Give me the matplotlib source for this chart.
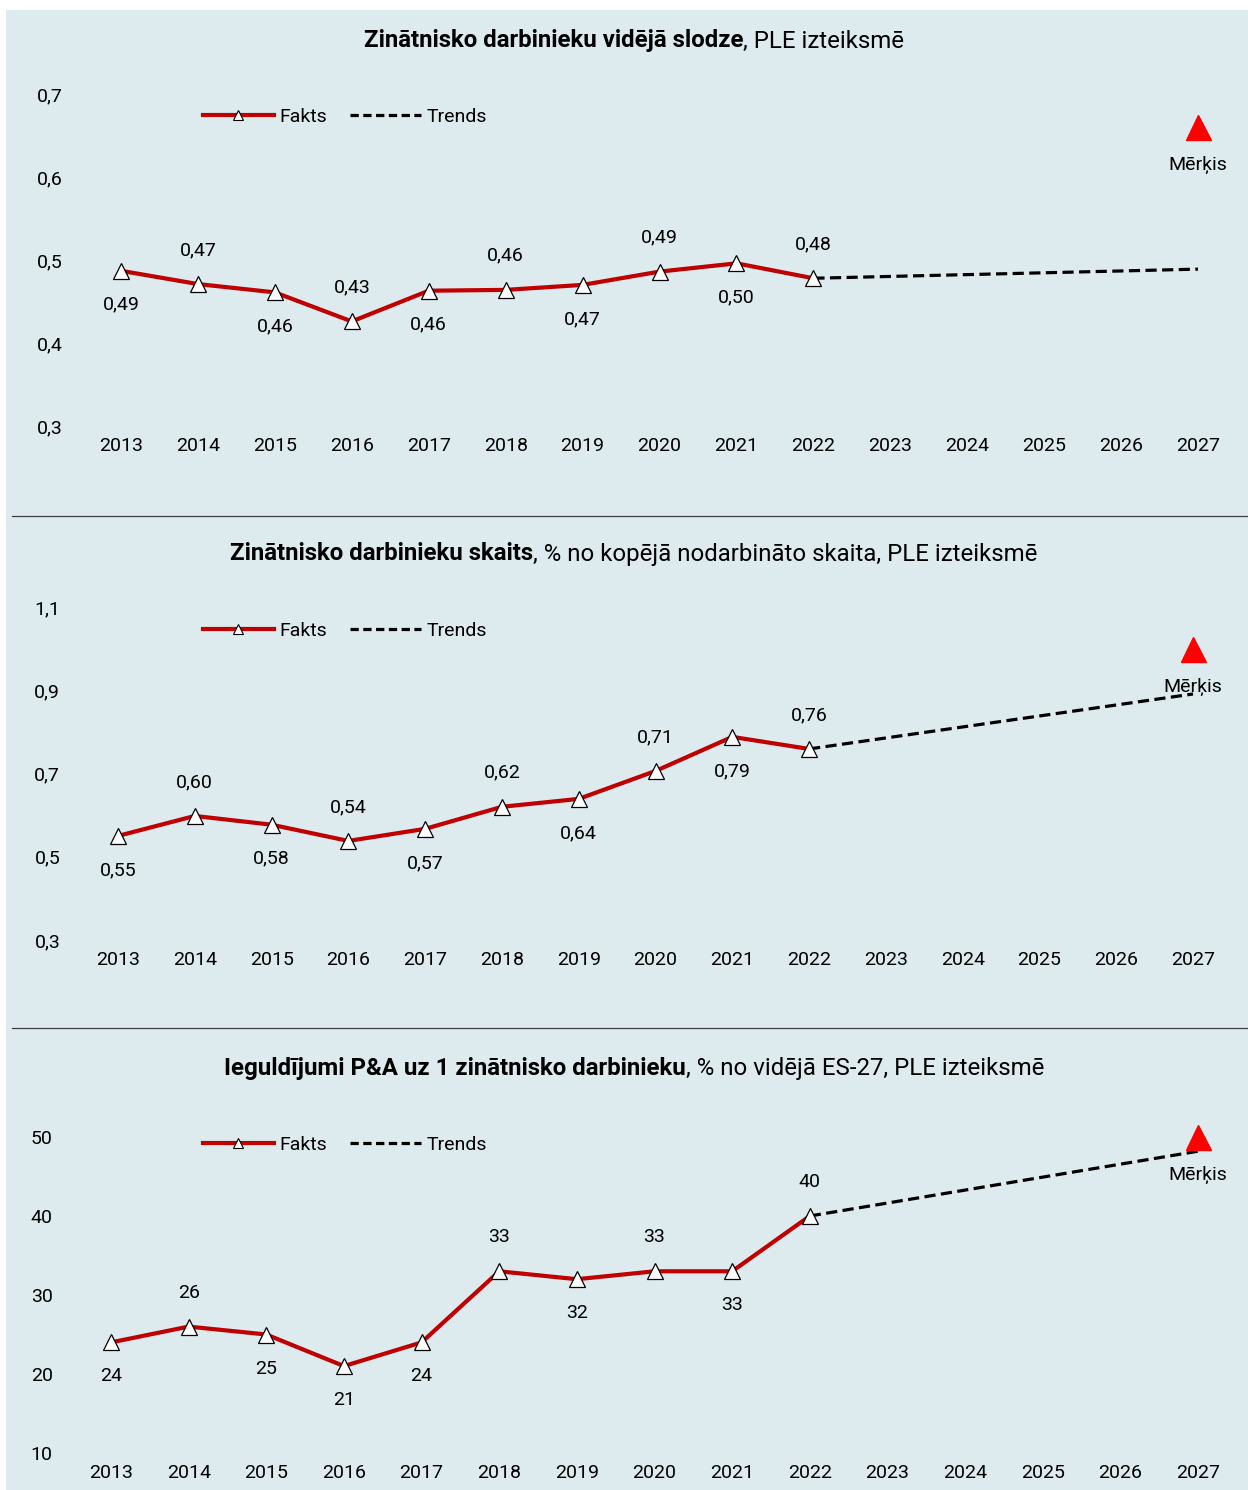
import matplotlib
matplotlib.use("Agg")
import matplotlib.pyplot as plt
from matplotlib.lines import Line2D
from matplotlib.patches import Rectangle
from matplotlib.offsetbox import TextArea, HPacker, AnchoredOffsetbox

plt.rcParams['font.family'] = ['Roboto', 'DejaVu Sans']

# --- data -------------------------------------------------------------
years = [2013, 2014, 2015, 2016, 2017, 2018, 2019, 2020, 2021, 2022]
all_years = list(range(2013, 2028))

# vidējā slodze
fakts_slodze = [0.487, 0.471, 0.461, 0.426, 0.463, 0.464, 0.470, 0.486, 0.496, 0.478]
trend_slodze_years = [2022, 2027]
trend_slodze = [0.478, 0.489]
target_slodze = 0.66

# skaits, % no kopējā nodarbināto skaita
fakts_skaits = [0.550, 0.598, 0.577, 0.538, 0.567, 0.620, 0.639, 0.706, 0.788, 0.759]
trend_skaits_years = [2022, 2027]
trend_skaits = [0.759, 0.891]
target_skaits = 1.0

# ieguldījumi P&A, % no ES-27
fakts_ieg = [24, 26, 25, 21, 24, 33, 32, 33, 33, 40]
trend_ieg_years = [2022, 2027]
trend_ieg = [40, 48.2]
target_ieg = 50

target_year = 2027

# label side: 1 above, -1 below
side_slodze = [-1, 1, -1, 1, -1, 1, -1, 1, -1, 1]
side_skaits = [-1, 1, -1, 1, -1, 1, -1, 1, -1, 1]
side_ieg = [-1, 1, -1, -1, -1, 1, -1, 1, -1, 1]

titles = [
    ("Zinātnisko darbinieku vidējā slodze", ", PLE izteiksmē"),
    ("Zinātnisko darbinieku skaits", ", % no kopējā nodarbināto skaita, PLE izteiksmē"),
    ("Ieguldījumi P&A uz 1 zinātnisko darbinieku", ", % no vidējā ES-27, PLE izteiksmē"),
]

# --- layout (pixels) --------------------------------------------------
W, H = 1248, 1490
BG = '#DDEBEE'
RED = '#C00000'
FS = 14
TFS = 17.3


def fx(px):
    return px / W


def fy(py):
    return 1 - py / H


fig = plt.figure(figsize=(W / 100, H / 100), dpi=100, facecolor='white')
fig.patches.append(Rectangle((fx(6), 0), 1 - fx(6), fy(10), transform=fig.transFigure,
                             facecolor=BG, edgecolor='none', zorder=-10))

for ysep in (516, 1028):
    fig.add_artist(Line2D([fx(12), 1], [fy(ysep), fy(ysep)], transform=fig.transFigure,
                          color='#404040', lw=0.9))

panels = [
    dict(data=fakts_slodze, ty=trend_slodze_years, tv=trend_slodze, target=target_slodze,
         side=side_slodze, x0=121, x1=1198, ylim=(0.3, 0.7), ypx=(426, 94),
         yticks=[0.3, 0.4, 0.5, 0.6, 0.7], dec=2, ydec=1, title_y=41, leg_y=117),
    dict(data=fakts_skaits, ty=trend_skaits_years, tv=trend_skaits, target=target_skaits,
         side=side_skaits, x0=118, x1=1193, ylim=(0.3, 1.1), ypx=(940, 607),
         yticks=[0.3, 0.5, 0.7, 0.9, 1.1], dec=2, ydec=1, title_y=554, leg_y=631),
    dict(data=fakts_ieg, ty=trend_ieg_years, tv=trend_ieg, target=target_ieg,
         side=side_ieg, x0=111, x1=1198, ylim=(10, 50), ypx=(1453, 1137),
         yticks=[10, 20, 30, 40, 50], dec=0, ydec=0, title_y=1068, leg_y=1145),
]


def fmt(v, d):
    return f"{v:.{d}f}".replace('.', ',')


for p, (tb, tr) in zip(panels, titles):
    step = (p['x1'] - p['x0']) / 14
    left = p['x0'] - step / 2
    right = p['x1'] + step / 2
    bot, top = p['ypx']
    ax = fig.add_axes([fx(left), fy(bot), fx(right - left), (bot - top) / H])
    ax.set_facecolor('none')
    ax.set_xlim(2012.5, 2027.5)
    ax.set_ylim(*p['ylim'])
    for s in ax.spines.values():
        s.set_visible(False)
    ax.set_xticks(all_years)
    ax.set_xticklabels([str(y) for y in all_years], fontsize=FS)
    ax.set_yticks(p['yticks'])
    ax.set_yticklabels([fmt(v, p['ydec']) for v in p['yticks']], fontsize=FS)
    ax.tick_params(axis='x', length=0, pad=8)
    ax.tick_params(axis='y', length=0, pad=14)

    ax.plot(p['ty'], p['tv'], color='black', lw=2.3, ls=(0, (3.5, 1.7)), zorder=2)
    ax.plot(years, p['data'], color=RED, lw=3, marker='^', markersize=11,
            markerfacecolor='white', markeredgecolor='black', markeredgewidth=0.9, zorder=3)
    for x, v, s in zip(years, p['data'], p['side']):
        ax.annotate(fmt(v, p['dec']), (x, v), xytext=(0, 24.5 * s), textcoords='offset points',
                    ha='center', va='center', fontsize=FS)

    ax.plot([target_year], [p['target']], marker='^', color='#FF0000', markersize=18,
            ls='none', zorder=4, clip_on=False)
    ax.annotate('Mērķis', (target_year, p['target']), xytext=(0, -27.5), textcoords='offset points',
                ha='center', va='center', fontsize=FS)

    h1 = Line2D([], [], color=RED, lw=3, marker='^', markersize=7,
                markerfacecolor='white', markeredgecolor='black', markeredgewidth=0.8)
    h2 = Line2D([], [], color='black', lw=2.3, ls=(0, (2.6, 1.4)))
    fig.legend([h1, h2], ['Fakts', 'Trends'], loc='center left',
               bbox_to_anchor=(fx(203), fy(p['leg_y'])), bbox_transform=fig.transFigure,
               ncol=2, frameon=False, fontsize=FS, handlelength=3.65, handletextpad=0.3,
               columnspacing=1.15, borderpad=0, borderaxespad=0)

    box = HPacker(children=[TextArea(tb, textprops=dict(fontsize=TFS, fontweight='bold')),
                            TextArea(tr, textprops=dict(fontsize=TFS))],
                  align='baseline', pad=0, sep=0)
    fig.add_artist(AnchoredOffsetbox(loc='center', child=box, frameon=False, pad=0, borderpad=0,
                                     bbox_to_anchor=(fx(634), fy(p['title_y'])),
                                     bbox_transform=fig.transFigure))

fig.savefig('out.png', dpi=100, facecolor='white')
